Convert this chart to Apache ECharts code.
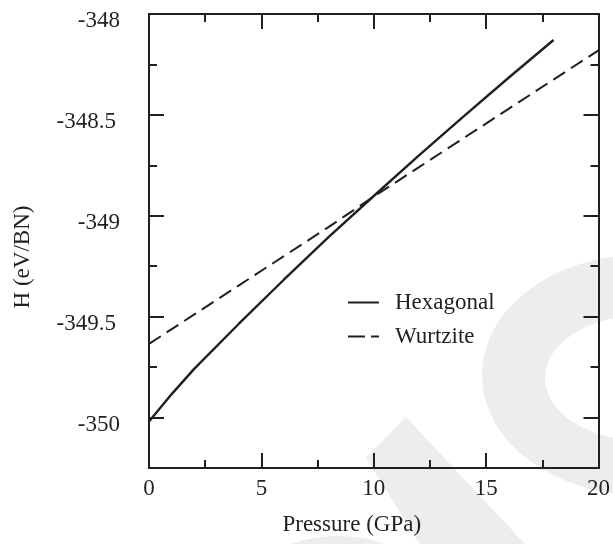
<!DOCTYPE html>
<html>
<head>
<meta charset="utf-8">
<script src="https://cdn.jsdelivr.net/npm/echarts@6/dist/echarts.min.js"></script>
<style>
  html, body { margin: 0; padding: 0; background: #ffffff; }
  #chart { width: 613px; height: 544px; }
</style>
</head>
<body>
<div id="chart"></div>
<script>
// Enthalpy of BN phases vs pressure
const hexPressure = [0, 1, 2, 4, 6, 8, 10, 12, 14, 16, 18];
const hexEnthalpy = [-350.02, -349.885, -349.76, -349.535, -349.317, -349.105, -348.902, -348.702, -348.507, -348.316, -348.129];

const wurPressure = [0, 2, 4, 6, 8, 10, 12, 14, 16, 18, 20];
const wurEnthalpy = [-349.635, -349.49, -349.345, -349.2, -349.055, -348.905, -348.76, -348.615, -348.47, -348.325, -348.18];

const yMajorTicks = [-350, -349.5, -349, -348.5, -348];
const yMinorTicks = [-350.25, -349.75, -349.25, -348.75, -348.25];

const seriesNames = ['Hexagonal', 'Wurtzite'];

const INK = '#231f20';
const FONT = '"Liberation Serif", "Times New Roman", serif';

const hexData = hexPressure.map((p, i) => [p, hexEnthalpy[i]]);
const wurData = wurPressure.map((p, i) => [p, wurEnthalpy[i]]);

const axisLine = { show: true, onZero: false, lineStyle: { color: INK, width: 2 } };

function xAxisDef(position, showLabels) {
  return {
    type: 'value', position: position, min: 0, max: 20, interval: 5,
    axisLine: axisLine,
    axisTick: { show: true, inside: true, length: 15, lineStyle: { color: INK, width: 2 } },
    minorTick: { show: true, splitNumber: 2, length: 8, lineStyle: { color: INK, width: 2 } },
    splitLine: { show: false }, minorSplitLine: { show: false },
    axisLabel: {
      show: showLabels, color: INK, fontFamily: FONT, fontSize: 23, margin: 9
    },
    name: showLabels ? 'Pressure (GPa)' : '',
    nameLocation: 'middle', nameGap: 45,
    nameTextStyle: { color: INK, fontFamily: FONT, fontSize: 23, padding: [0, 44, 0, 0] }
  };
}

function yAxisDef(position, ticks, tickLen, showLabels) {
  return {
    type: 'value', position: position, min: -350.25, max: -348,
    axisLine: axisLine,
    axisTick: { show: true, inside: true, length: tickLen, customValues: ticks,
      lineStyle: { color: INK, width: 2 } },
    splitLine: { show: false },
    axisLabel: {
      show: showLabels, customValues: yMajorTicks, margin: 29,
      formatter: v => Number.isInteger(v) ? '{i|' + v + '}' : '{d|' + v + '}',
      rich: {
        i: { color: INK, fontFamily: FONT, fontSize: 23, padding: [14, 0, 0, 0] },
        d: { color: INK, fontFamily: FONT, fontSize: 23, padding: [14, 4, 0, 0] }
      }
    },
    name: showLabels ? 'H (eV/BN)' : '',
    nameLocation: 'middle', nameGap: 115,
    nameTextStyle: { color: INK, fontFamily: FONT, fontSize: 23, padding: [0, 32, 0, 0] }
  };
}

const chart = echarts.init(document.getElementById('chart'), null, { renderer: 'canvas' });

chart.setOption({
  backgroundColor: '#ffffff',
  animation: false,
  grid: { left: 149, right: 10, top: 14, bottom: 76 },
  // light backdrop shapes behind the plot
  graphic: [
    { type: 'circle', z: -10, x: 640, y: 375, scaleX: 158, scaleY: 120,
      shape: { cx: 0, cy: 0, r: 1 }, style: { fill: '#ededed' }, silent: true },
    { type: 'circle', z: -9, x: 640, y: 378, scaleX: 95, scaleY: 62,
      shape: { cx: 0, cy: 0, r: 1 }, style: { fill: '#ffffff' }, silent: true },
    { type: 'polygon', z: -10,
      shape: { points: [[366, 458], [406, 417], [525, 544], [420, 544]] },
      style: { fill: '#ededed' }, silent: true },
    { type: 'circle', z: -10, x: 338, y: 620, scaleX: 110, scaleY: 84,
      shape: { cx: 0, cy: 0, r: 1 }, style: { fill: '#ededed' }, silent: true }
  ],
  legend: {
    orient: 'vertical', left: 347, top: 291, padding: 0,
    itemWidth: 31, itemHeight: 14, itemGap: 11,
    itemStyle: { opacity: 0 },
    textStyle: { color: INK, fontFamily: FONT, fontSize: 23, lineHeight: 23, padding: [0, 0, 0, 11] },
    data: [
      { name: seriesNames[0] },
      { name: seriesNames[1], lineStyle: { type: [17, 6] } }
    ]
  },
  xAxis: [xAxisDef('bottom', true), xAxisDef('top', false)],
  yAxis: [
    yAxisDef('left', yMajorTicks, 15, true),
    yAxisDef('left', yMinorTicks, 8, false),
    yAxisDef('right', yMajorTicks, 15, false),
    yAxisDef('right', yMinorTicks, 8, false)
  ],
  series: [
    {
      name: seriesNames[0], type: 'line', xAxisIndex: 0, yAxisIndex: 0,
      data: hexData, symbol: 'none', smooth: false,
      lineStyle: { color: INK, width: 2.4, type: 'solid' }, itemStyle: { color: INK }
    },
    {
      name: seriesNames[1], type: 'line', xAxisIndex: 0, yAxisIndex: 0,
      data: wurData, symbol: 'none', smooth: false,
      lineStyle: { color: INK, width: 2, type: [14, 7] }, itemStyle: { color: INK }
    }
  ]
});
</script>
</body>
</html>
